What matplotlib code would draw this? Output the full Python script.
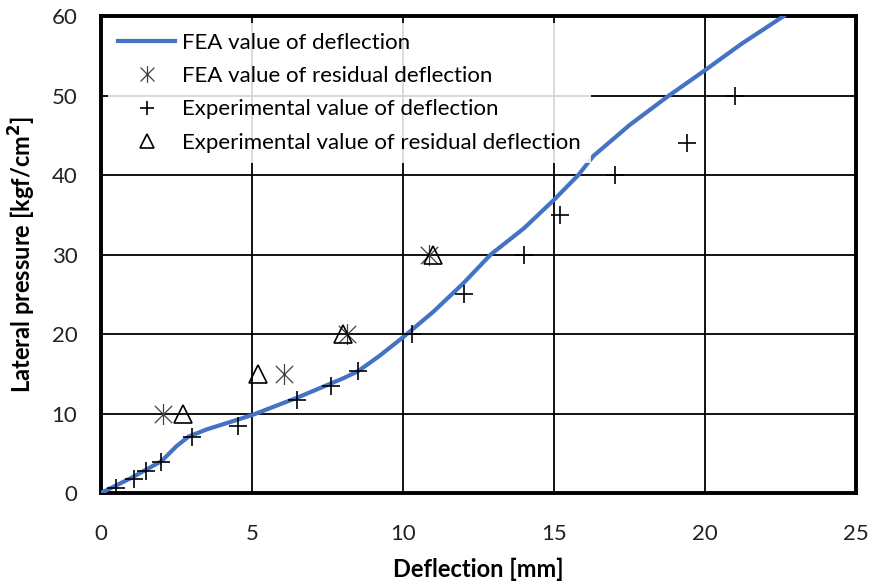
import matplotlib
matplotlib.use("Agg")
import matplotlib.pyplot as plt
from matplotlib.path import Path

plt.rcParams['font.family'] = ['Lato', 'DejaVu Sans']

# FEA deflection curve
fea_x = [0, 1.0, 2.0, 2.5, 2.9, 3.5, 5.0, 6.5, 8.0, 8.5, 9.2, 10.0, 11.0, 12.0, 12.9,
         14.0, 15.0, 15.8, 16.3, 17.5, 18.8, 20.0, 21.2, 22.6]
fea_y = [0, 1.9, 4.0, 5.9, 7.1, 8.0, 9.8, 12.0, 14.4, 15.3, 17.2, 19.6, 22.8, 26.4, 30.0,
         33.3, 36.9, 40.0, 42.4, 46.3, 50.0, 53.2, 56.5, 60.0]

# FEA residual deflection
fea_res_x = [2.05, 6.05, 8.15, 10.85]
fea_res_y = [10, 15, 20, 30]

# experimental deflection
exp_x = [0.5, 1.1, 1.5, 2.0, 3.0, 4.55, 6.5, 7.6, 8.5, 10.3, 12.0, 14.0, 15.2, 17.0, 19.4, 21.0]
exp_y = [0.6, 1.8, 2.8, 3.9, 7.0, 8.4, 11.7, 13.5, 15.3, 20, 25, 30, 35, 40, 44, 50]

# experimental residual deflection
exp_res_x = [2.7, 5.2, 8.0, 11.0]
exp_res_y = [10, 15, 20, 30]

# X with a vertical bar through it
star = Path([(-1, -1), (1, 1), (-1, 1), (1, -1), (0, -1.2), (0, 1.2)],
            [Path.MOVETO, Path.LINETO, Path.MOVETO, Path.LINETO, Path.MOVETO, Path.LINETO])

fig = plt.figure(figsize=(8.71, 5.83), dpi=100)
ax = fig.add_axes([0.116, 0.1544, 0.867, 0.818])

ax.plot(fea_x, fea_y, color='#4472C4', lw=3, label='FEA value of deflection', zorder=3)
ax.plot(fea_res_x, fea_res_y, ls='none', marker=star, ms=15, mew=0.9,
        color='#404040', label='FEA value of residual deflection', zorder=4)
ax.plot(exp_x, exp_y, ls='none', marker='+', ms=13, mew=1.2,
        color='black', label='Experimental value of deflection', zorder=4)
ax.plot(exp_res_x, exp_res_y, ls='none', marker='^', ms=13, mew=1.2,
        mfc='none', mec='black', color='black',
        label='Experimental value of residual deflection', zorder=4)

ax.set_xlim(0, 25)
ax.set_ylim(0, 60)
ax.set_xticks(range(0, 26, 5))
ax.set_yticks(range(0, 61, 10))
ax.grid(True, color='black', lw=1.3)
ax.set_axisbelow(True)
ax.tick_params(length=0, labelsize=16, colors='#222222')
ax.tick_params(axis='x', pad=22)
ax.tick_params(axis='y', pad=17)
for sp in ax.spines.values():
    sp.set_linewidth(2.8)
    sp.set_color('black')

ax.set_xlabel('Deflection [mm]', fontsize=17, fontweight='bold', labelpad=10)
ax.set_ylabel('Lateral pressure [kgf/cm$^\\mathbf{2}$]', fontsize=17, fontweight='bold', labelpad=10)

leg = ax.legend(loc='upper left', fontsize=16, frameon=True, framealpha=0.85,
                edgecolor='none', fancybox=False, handlelength=2.6, handletextpad=0.3,
                labelspacing=0.6, borderaxespad=0.3, borderpad=0.45, markerscale=0.8)
leg.get_frame().set_linewidth(0)

fig.savefig('out.png', dpi=100)
